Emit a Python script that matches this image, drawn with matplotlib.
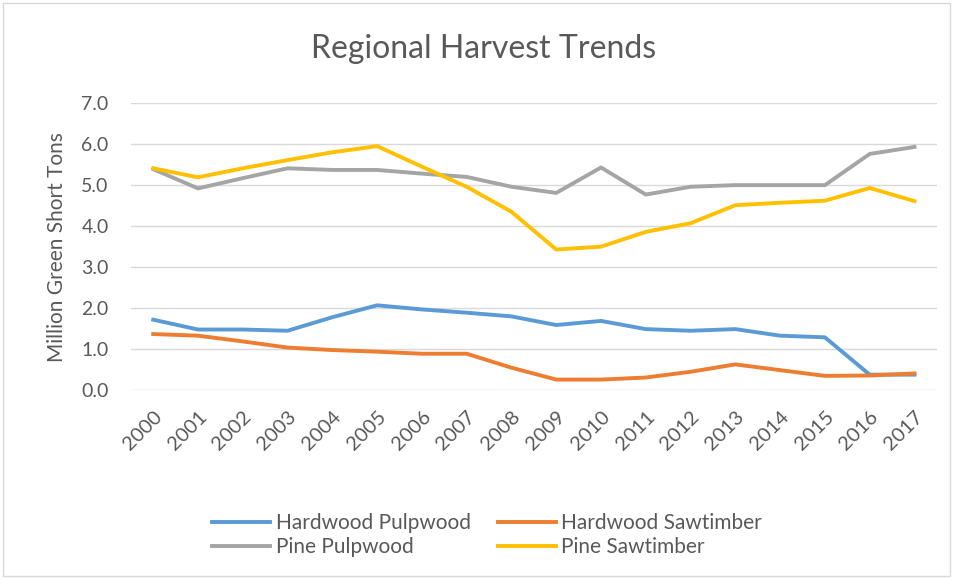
import matplotlib.pyplot as plt
from matplotlib.patches import Rectangle

plt.rcParams['font.family'] = ['Lato', 'DejaVu Sans']

years = [str(y) for y in range(2000, 2018)]

hardwood_pulpwood = [1.72, 1.48, 1.48, 1.45, 1.78, 2.07, 1.97, 1.89, 1.80, 1.59,
                     1.69, 1.49, 1.45, 1.49, 1.33, 1.29, 0.38, 0.38]
hardwood_sawtimber = [1.37, 1.33, 1.19, 1.04, 0.98, 0.94, 0.89, 0.89, 0.55, 0.26,
                      0.26, 0.31, 0.45, 0.63, 0.49, 0.35, 0.36, 0.41]
pine_pulpwood = [5.39, 4.92, 5.17, 5.41, 5.37, 5.37, 5.28, 5.20, 4.96, 4.81,
                 5.43, 4.77, 4.96, 5.00, 5.00, 5.00, 5.76, 5.93]
pine_sawtimber = [5.41, 5.19, 5.41, 5.61, 5.80, 5.95, 5.45, 4.96, 4.35, 3.43,
                  3.50, 3.86, 4.07, 4.51, 4.57, 4.62, 4.93, 4.61]

grey_text = '#595959'

fig = plt.figure(figsize=(9.55, 5.79), dpi=100)
ax = fig.add_axes([0.137, 0.326, 0.844, 0.496])

x = range(len(years))
l1, = ax.plot(x, hardwood_pulpwood, color='#5B9BD5', lw=2.8, label='Hardwood Pulpwood')
l2, = ax.plot(x, hardwood_sawtimber, color='#ED7D31', lw=2.8, label='Hardwood Sawtimber')
l3, = ax.plot(x, pine_pulpwood, color='#A5A5A5', lw=2.8, label='Pine Pulpwood')
l4, = ax.plot(x, pine_sawtimber, color='#FFC000', lw=2.8, label='Pine Sawtimber')

ax.set_xlim(-0.5, len(years) - 0.5)
ax.set_ylim(0, 7)
ax.set_yticks([i for i in range(8)])
ax.set_yticklabels([f'{i:.1f}' for i in range(8)])
ax.set_xticks(list(x))
ax.set_xticklabels(years, rotation=45, ha='right', rotation_mode='anchor')
ax.grid(axis='y', color='#D9D9D9', lw=1)
ax.set_axisbelow(True)
for s in ax.spines.values():
    s.set_visible(False)
ax.tick_params(length=0, labelsize=14, colors=grey_text)
ax.tick_params(axis='y', pad=16)
ax.tick_params(axis='x', labelsize=14.5, pad=13)
ax.set_ylabel('Million Green Short Tons', fontsize=15, color=grey_text, labelpad=10)

fig.text(0.506, 0.915, 'Regional Harvest Trends', ha='center', va='center',
         fontsize=23, color=grey_text)

leg = fig.legend([l1, l3, l2, l4],
                 ['Hardwood Pulpwood', 'Pine Pulpwood', 'Hardwood Sawtimber', 'Pine Sawtimber'],
                 ncol=2, loc='center', bbox_to_anchor=(0.51, 0.076), frameon=False,
                 fontsize=15, handlelength=2.8, handletextpad=0.25, columnspacing=1.3,
                 labelspacing=0.2)
for t in leg.get_texts():
    t.set_color(grey_text)

fig.patches.append(Rectangle((0.003, 0.005), 0.992, 0.99, transform=fig.transFigure,
                             fill=False, edgecolor='#D9D9D9', lw=1))

fig.savefig('out.png', dpi=100)
